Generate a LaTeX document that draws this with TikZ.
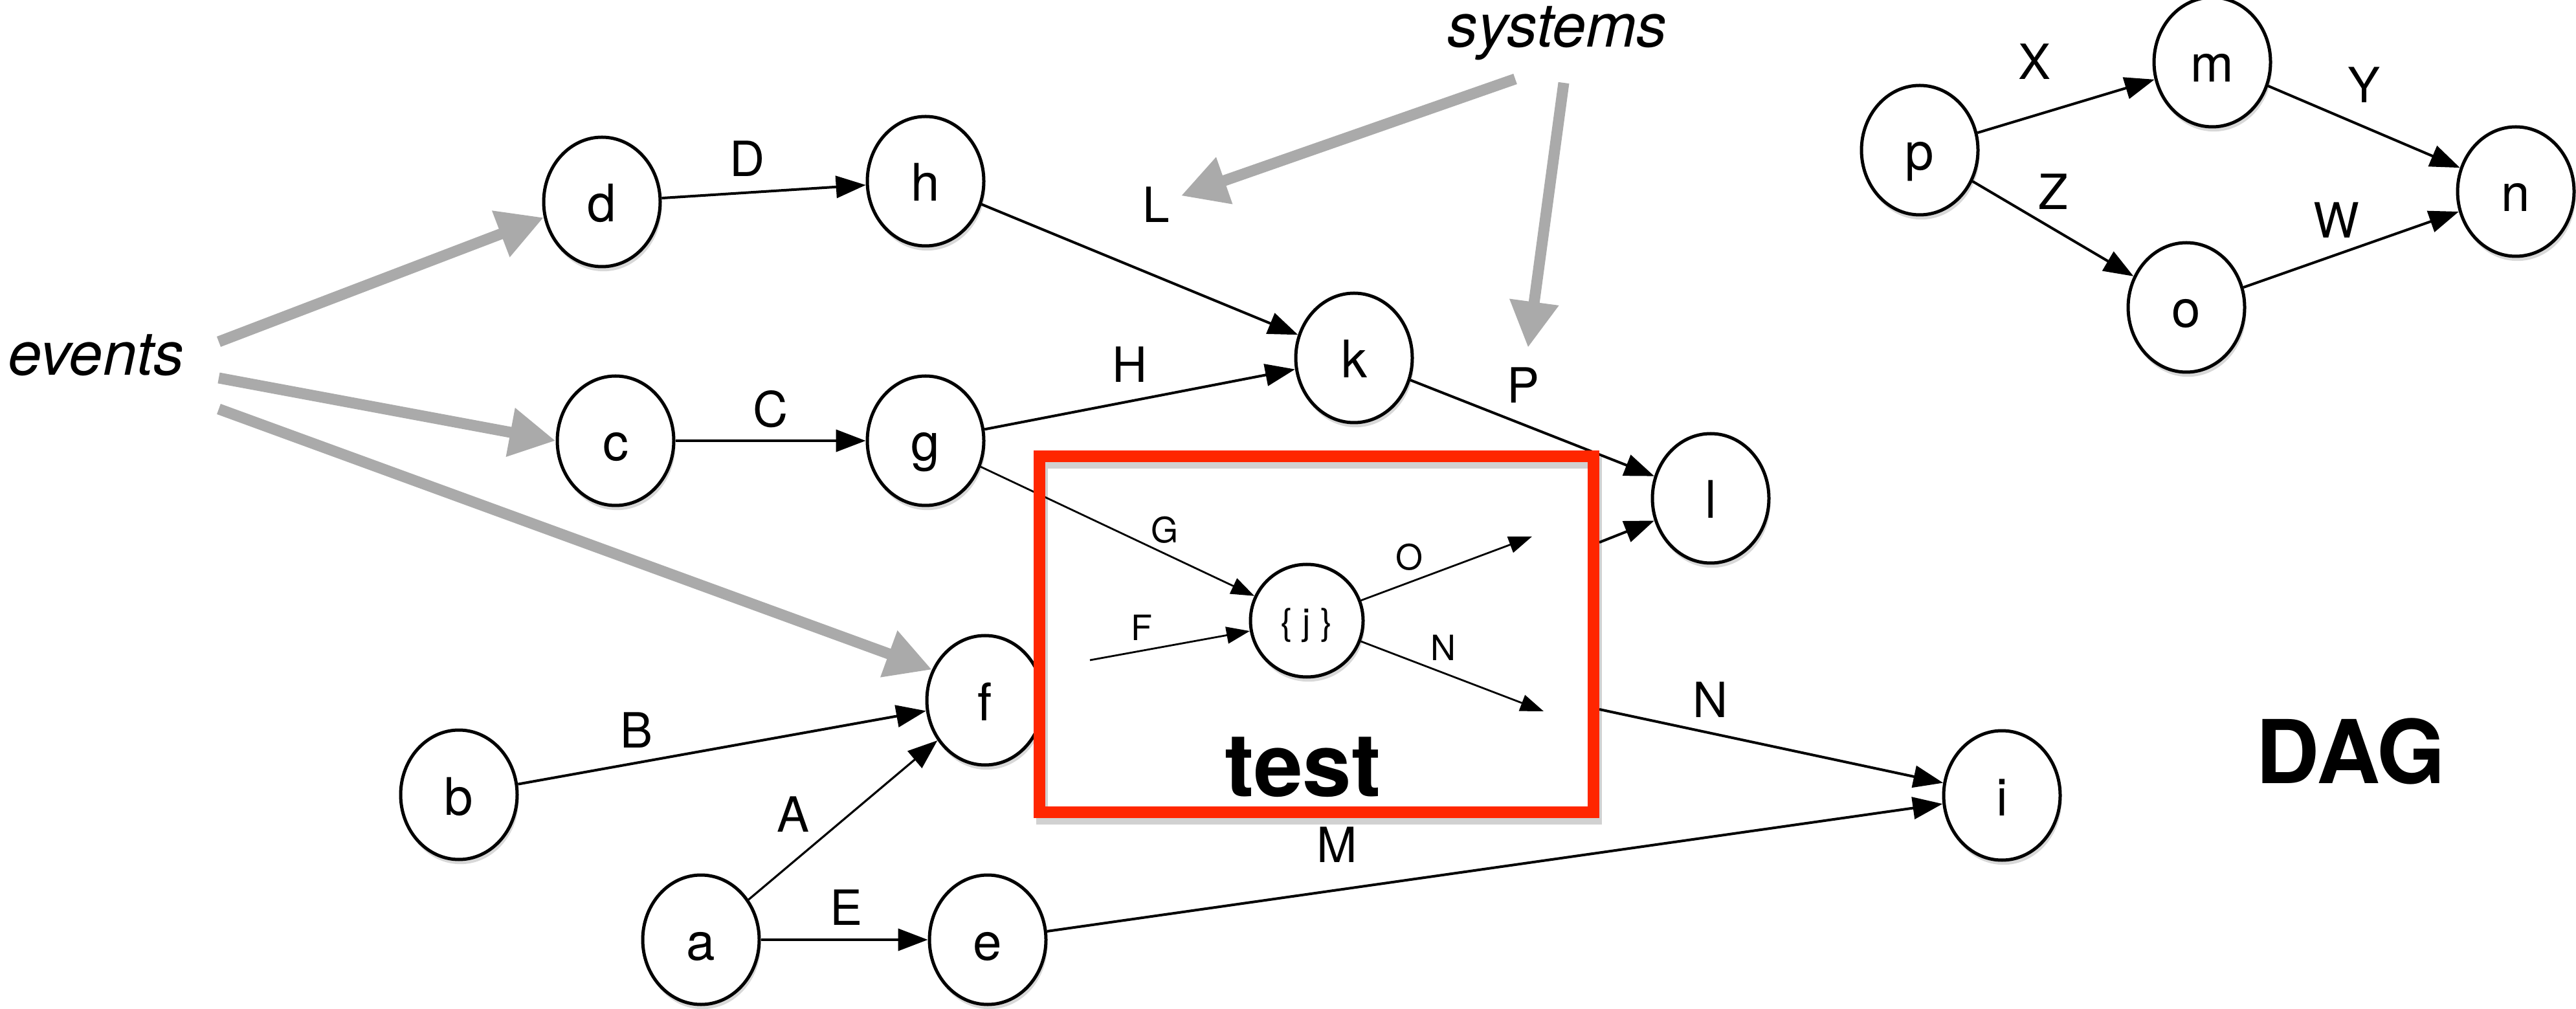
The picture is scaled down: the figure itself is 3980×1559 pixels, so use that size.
\documentclass[tikz,border=0pt]{standalone}
\usepackage{fontspec}
\setmainfont{TeX Gyre Heros}
\usetikzlibrary{arrows.meta,shapes.geometric,shadows}
\definecolor{testred}{RGB}{255,38,0}
\definecolor{feedgray}{RGB}{170,170,170}

\begin{document}
\begin{tikzpicture}[x=0.25pt,y=-0.25pt,
  state/.style={ellipse, draw, line width=1.25pt, fill=white,
    minimum width=45pt, minimum height=50pt, inner sep=0pt,
    font=\fontsize{20}{24}\selectfont, text height=15.5pt, text depth=0pt,
    drop shadow={shadow xshift=0.6pt, shadow yshift=-1.8pt, opacity=0.3}},
  smallstate/.style={state, minimum width=43.5pt, minimum height=43.5pt,
    font=\fontsize{14}{17}\selectfont, text height=11pt},
  lbl/.style={inner sep=0pt, font=\fontsize{18.75}{22}\selectfont},
  smalllbl/.style={inner sep=0pt, font=\fontsize{13.5}{16}\selectfont},
  edge/.style={line width=1pt, -{Triangle[length=11.5pt,width=8.5pt]}},
  thinedge/.style={edge, line width=0.8pt},
  inneredge/.style={line width=0.7pt, -{Triangle[length=9pt,width=6.5pt]}},
  feedarrow/.style={draw=feedgray, line width=4.25pt,
    -{Triangle[length=17.75pt,width=18pt]}},
  bigtitle/.style={inner sep=0pt, anchor=base, font=\fontsize{34}{40}\bfseries\selectfont},
  sidetitle/.style={inner sep=0pt, anchor=base west, font=\fontsize{23.5}{28}\itshape\selectfont}
]
\fill[white] (0,0) rectangle (3980,1559);
\useasboundingbox (0,0) rectangle (3980,1559);

% main graph nodes
\node[state] (d) at (930,312) {d};
\node[state] (h) at (1430,280) {h};
\node[state] (c) at (951,681) {c};
\node[state] (g) at (1430,681) {g};
\node[state] (k) at (2092,553) {k};
\node[state] (l) at (2643,770) {l};
\node[state] (f) at (1522,1082) {f};
\node[state] (b) at (709,1228) {b};
\node[state] (a) at (1083,1452) {a};
\node[state] (e) at (1526,1452) {e};
\node[state] (i) at (3093,1229) {i};
\node[smallstate] (j) at (2019,959) {\{\ j\ \}};

% small example DAG
\node[state] (p) at (2966,232) {p};
\node[state] (m) at (3418,96) {m};
\node[state] (n) at (3887,296) {n};
\node[state] (o) at (3378,475) {o};

% edge labels
\node[lbl] (lD) at (1155,245) {D};
\node[lbl] (lC) at (1191,632) {C};
\node[lbl] (lH) at (1746,563) {H};
\node[lbl] (lL) at (1786,316) {L};
\node[lbl] (lP) at (2353,595) {P};
\node[lbl] (lN) at (2643,1081) {N};
\node[lbl] (lM) at (2066,1305) {M};
\node[lbl] (lB) at (983,1128) {B};
\node[lbl] (lA) at (1225,1258) {A};
\node[lbl] (lE) at (1307,1402) {E};
\node[lbl] (lX) at (3143,95) {X};
\node[lbl] (lY) at (3652,131) {Y};
\node[lbl] (lZ) at (3172,296) {Z};
\node[lbl] (lW) at (3610,340) {W};
\node[smalllbl] (lG) at (1799,819) {G};
\node[smalllbl] (lF) at (1764,970) {F};
\node[smalllbl] (lO) at (2177,861) {O};
\node[smalllbl] (lNi) at (2230,1001) {N};

% titles
\node[sidetitle] (events) at (12,580) {events};
\node[sidetitle] (systems) at (2236,73) {systems};
\node[bigtitle] (test) at (2013,1230) {test};
\node[bigtitle] (dag) at (3632,1210) {DAG};

% free ends of connectors
\coordinate (ev1) at (338,528);
\coordinate (ev2) at (338,584);
\coordinate (ev3) at (338,632);
\coordinate (sy1) at (2341,122);
\coordinate (sy2) at (2416,128);
\coordinate (fIn) at (1684,1020);
\coordinate (oEnd) at (2367,829);
\coordinate (nEnd) at (2385,1099);
\coordinate (oOut) at (2471,838);
\coordinate (nOut) at (2471,1096);

% main graph edges
\draw[edge] (d) -- (h);
\draw[edge] (c) -- (g);
\draw[edge] (h) -- (k);
\draw[edge] (g) -- (k);
\draw[edge] (k) -- (l);
\draw[edge] (b) -- (f);
\draw[thinedge] (a) -- (f);
\draw[edge] (a) -- (e);
\draw[edge] (e) -- (i);
\draw[inneredge] (g) -- (j);
\draw[inneredge] (fIn) -- (j);
\draw[inneredge] (j) -- (oEnd);
\draw[inneredge] (j) -- (nEnd);
\draw[edge] (oOut) -- (l);
\draw[edge] (nOut) -- (i);

% small DAG edges
\draw[edge] (p) -- (m);
\draw[edge] (m) -- (n);
\draw[edge] (p) -- (o);
\draw[edge] (o) -- (n);

% external inputs
\draw[feedarrow] (ev1) -- (d.195);
\draw[feedarrow] (ev2) -- (c.west);
\draw[feedarrow] (ev3) -- (f.150);
\draw[feedarrow, shorten >=4.5pt] (sy1) -- (lL);
\draw[feedarrow, shorten >=7.5pt] (sy2) -- (lP);

% the test box
\draw[black, opacity=0.18, line width=4.5pt] (1610,715) rectangle (2466,1265);
\draw[testred, line width=4.5pt] (1606,705) rectangle (2462,1255);
\end{tikzpicture}
\end{document}
